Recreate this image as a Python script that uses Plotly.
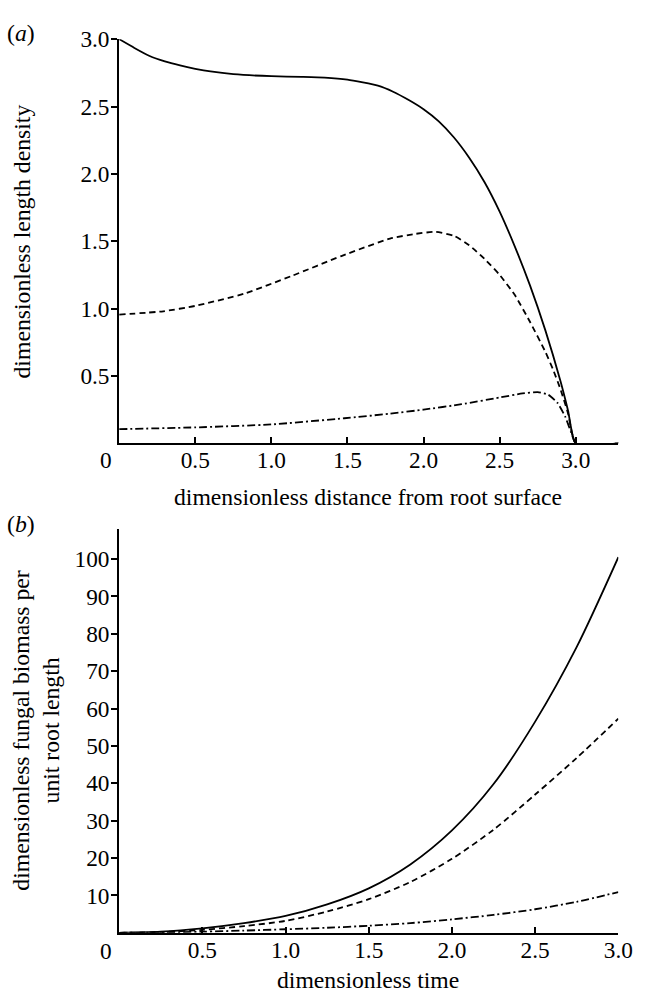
import plotly.graph_objects as go

# ---------------- data: panel (a) ----------------
dist_solid = [0.0, 0.1, 0.2, 0.3, 0.4, 0.5, 0.6, 0.75, 1.0, 1.2, 1.35, 1.5, 1.7, 1.8, 1.9, 2.0, 2.1, 2.2, 2.3,
              2.4, 2.5, 2.6, 2.7, 2.8, 2.9, 2.95, 3.0, 3.3]
dens_solid = [3.0, 2.935, 2.875, 2.835, 2.805, 2.78, 2.76, 2.74, 2.725, 2.72, 2.715, 2.70, 2.655, 2.61, 2.55, 2.48,
              2.39, 2.27, 2.12, 1.94, 1.72, 1.46, 1.17, 0.84, 0.46, 0.24, 0.0, 0.0]

dist_dash = [0.0, 0.29, 0.5, 0.82, 1.14, 1.46, 1.78, 1.95, 2.08, 2.2, 2.3, 2.4, 2.5, 2.6, 2.7, 2.8, 2.85, 2.9,
             2.95, 3.0, 3.3]
dens_dash = [0.955, 0.98, 1.02, 1.11, 1.245, 1.39, 1.52, 1.555, 1.57, 1.54, 1.47, 1.37, 1.25, 1.10, 0.90, 0.68,
             0.55, 0.40, 0.22, 0.0, 0.0]

dist_dashdot = [0.0, 0.5, 1.0, 1.48, 1.78, 2.0, 2.25, 2.5, 2.65, 2.75, 2.82, 2.88, 2.93, 2.97, 3.0, 3.3]
dens_dashdot = [0.105, 0.118, 0.14, 0.186, 0.22, 0.25, 0.29, 0.34, 0.37, 0.38, 0.36, 0.30, 0.20, 0.08, 0.0, 0.0]

# ---------------- data: panel (b) ----------------
time_pts = [0.0, 0.25, 0.5, 0.75, 1.0, 1.25, 1.5, 1.75, 2.0, 2.25, 2.5, 2.75, 3.0]
bio_solid = [0.0, 0.3, 1.2, 2.6, 4.5, 7.6, 11.9, 18.3, 27.4, 39.8, 56.5, 76.5, 100.5]
bio_dash = [0.0, 0.2, 0.8, 1.8, 3.2, 5.7, 9.0, 13.6, 19.8, 27.6, 37.0, 46.8, 57.3]
bio_dashdot = [0.0, 0.1, 0.3, 0.6, 0.95, 1.35, 1.9, 2.6, 3.6, 4.8, 6.3, 8.3, 10.9]

a_xticks = [0.5, 1.0, 1.5, 2.0, 2.5, 3.0]
a_yticks = [0.5, 1.0, 1.5, 2.0, 2.5, 3.0]
b_xticks = [0.5, 1.0, 1.5, 2.0, 2.5, 3.0]
b_yticks = [10, 20, 30, 40, 50, 60, 70, 80, 90, 100]

W, H = 648, 994
FONT = "Liberation Serif"
FS = 23.3
FS_TITLE = 23.7


def px_x(p):
    return p / W


def px_y(p):
    return 1 - p / H


LW = 1.8
styles = {
    "solid": dict(color="black", width=LW, dash="solid"),
    "dash": dict(color="black", width=LW, dash="6px,4px"),
    "dashdot": dict(color="black", width=LW, dash="8px,3px,2px,3px"),
}

fig = go.Figure()

for xs, ys, st in [(dist_solid, dens_solid, "solid"), (dist_dash, dens_dash, "dash"),
                   (dist_dashdot, dens_dashdot, "dashdot")]:
    fig.add_trace(go.Scatter(x=xs, y=ys, mode="lines", line=dict(shape="spline", smoothing=0.5, **styles[st]),
                             xaxis="x", yaxis="y", showlegend=False, hoverinfo="skip"))

for ys, st in [(bio_solid, "solid"), (bio_dash, "dash"), (bio_dashdot, "dashdot")]:
    fig.add_trace(go.Scatter(x=time_pts, y=ys, mode="lines", line=dict(shape="spline", smoothing=0.8, **styles[st]),
                             xaxis="x2", yaxis="y2", showlegend=False, hoverinfo="skip"))

xdom = [px_x(122), px_x(633)]
common_axis = dict(showline=True, linecolor="black", linewidth=2, showgrid=False, zeroline=False,
                   tickcolor="black", tickwidth=1.5, ticklen=6,
                   tickfont=dict(family=FONT, size=FS, color="black"), fixedrange=True)

fig.update_layout(
    width=W, height=H,
    margin=dict(l=0, r=0, t=0, b=0),
    paper_bgcolor="white", plot_bgcolor="white",
    font=dict(family=FONT, size=FS, color="black"),
    xaxis=dict(domain=xdom, anchor="y", range=[0, 3.28], tickvals=a_xticks, ticklabelstandoff=-5,
               ticktext=[f"{v:.1f}" for v in a_xticks], ticks="inside", **common_axis),
    yaxis=dict(domain=[px_y(436), px_y(26.5)], anchor="x", range=[0, 3.0], tickvals=a_yticks, ticklabelstandoff=-3,
               ticktext=[f"{v:.1f}" for v in a_yticks], ticks="outside", **common_axis),
    xaxis2=dict(domain=xdom, anchor="y2", range=[0, 3.0], tickvals=b_xticks, ticklabelstandoff=-5,
                ticktext=[f"{v:.1f}" for v in b_xticks], ticks="inside", **common_axis),
    yaxis2=dict(domain=[px_y(932), px_y(523)], anchor="x2", range=[0, 108], tickvals=b_yticks, ticklabelstandoff=-3,
                ticktext=[str(v) for v in b_yticks], ticks="outside", **common_axis),
)

ann = []


def add_text(text, x, y, angle=0, size=FS_TITLE):
    ann.append(dict(text=text, x=px_x(x), y=px_y(y), xref="paper", yref="paper", showarrow=False,
                    xanchor="center", yanchor="middle", textangle=angle,
                    font=dict(family=FONT, size=size, color="black")))


add_text("(<i>a</i>)", 21, 20)
add_text("(<i>b</i>)", 21, 518)
add_text("0", 108, 453, size=FS)
add_text("0", 108, 950, size=FS)
add_text("dimensionless distance from root surface", 377, 490)
add_text("dimensionless time", 377, 980)
add_text("dimensionless length density", 22, 231, angle=-90)
add_text("dimensionless fungal biomass per<br>unit root length", 37, 727, angle=-90)

fig.update_layout(annotations=ann)

fig.write_html("out.html")
